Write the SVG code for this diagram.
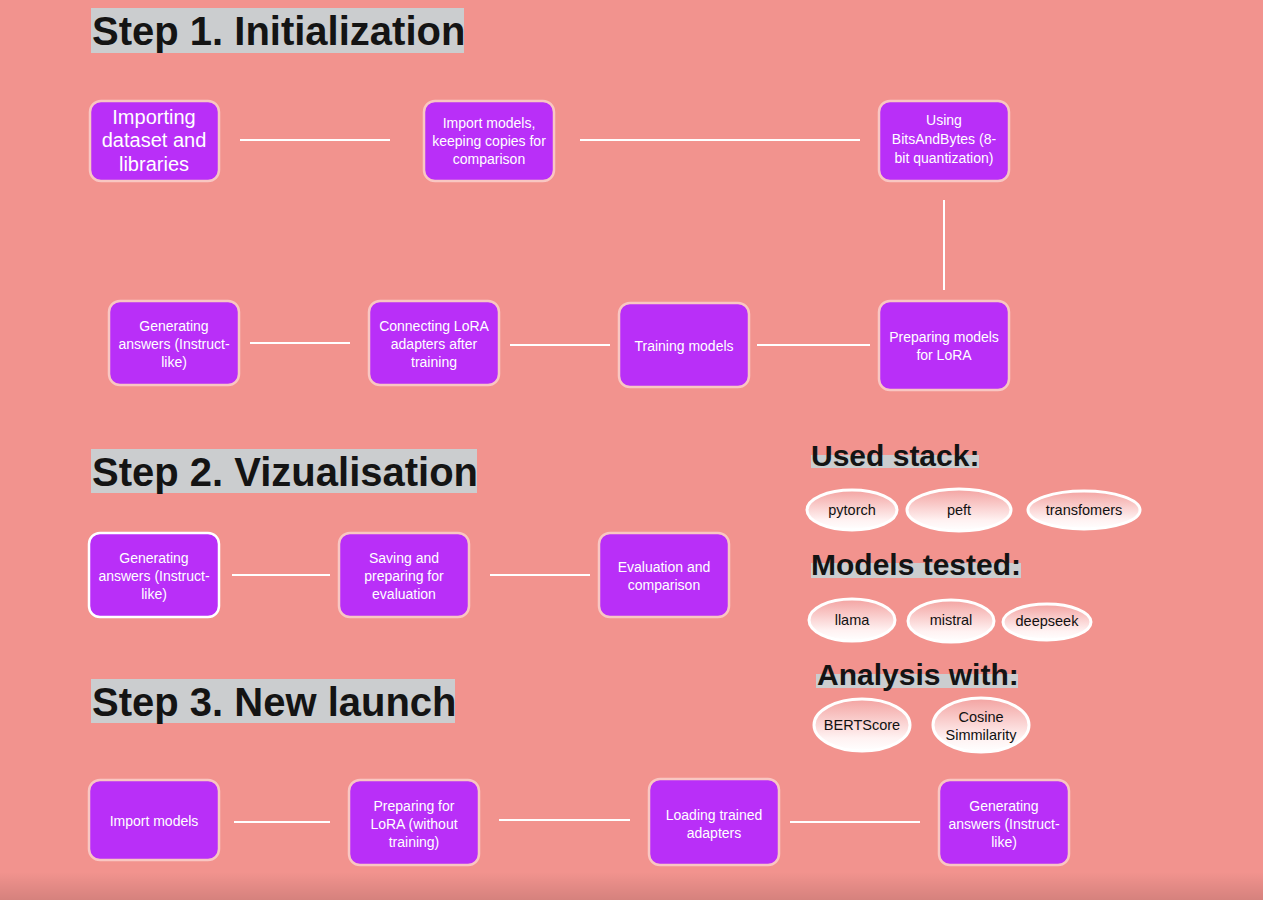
<svg xmlns="http://www.w3.org/2000/svg" width="1263" height="900" viewBox="0 0 1263 900">
<style>
.node rect{fill:#B92FF8;stroke:#F9C6C2;stroke-width:2.5}
.nt{font-family:"Liberation Sans",Arial,sans-serif;font-size:14px;fill:#FFFFFF;text-anchor:middle}
.big{font-size:20px}
.hbox{fill:#CBCDCF}
.h1{font-family:"Liberation Sans",Arial,sans-serif;font-weight:bold;font-size:40px;fill:#141414}
.h2{font-family:"Liberation Sans",Arial,sans-serif;font-weight:bold;font-size:30px;fill:#141414}
.pill ellipse{fill:url(#pg);stroke:#FFFFFF;stroke-width:3}
.pt{font-family:"Liberation Sans",Arial,sans-serif;font-size:14.5px;fill:#111111;text-anchor:middle}
#connectors line{stroke:#FFFFFF;stroke-width:2}
</style>
<defs>
<linearGradient id="pg" x1="0" y1="0" x2="0" y2="1">
<stop offset="0" stop-color="#F3A3A1"/>
<stop offset="0.75" stop-color="#FFF2F2"/>
<stop offset="1" stop-color="#FFFFFF"/>
</linearGradient>
<linearGradient id="sh" x1="0" y1="0" x2="0" y2="1">
<stop offset="0" stop-color="#000000" stop-opacity="0"/>
<stop offset="1" stop-color="#000000" stop-opacity="0.12"/>
</linearGradient>
</defs>
<rect width="1263" height="900" fill="#F2938E"/>
<rect x="0" y="872" width="1263" height="28" fill="url(#sh)"/>

<g id="headings">
<rect class="hbox" x="91" y="8" width="373" height="45"/>
<text class="h1" x="92" y="45">Step 1. Initialization</text>
<rect class="hbox" x="91" y="449" width="386" height="44"/>
<text class="h1" x="92" y="486">Step 2. Vizualisation</text>
<rect class="hbox" x="91" y="679" width="364" height="44"/>
<text class="h1" x="92" y="716">Step 3. New launch</text>
<rect class="hbox" x="811" y="455" width="168" height="13"/>
<text class="h2" x="811" y="466">Used stack:</text>
<rect class="hbox" x="811" y="563" width="210" height="15"/>
<text class="h2" x="811" y="575">Models tested:</text>
<rect class="hbox" x="816" y="674" width="202" height="14"/>
<text class="h2" x="817" y="685">Analysis with:</text>
</g>

<g id="connectors">
<line x1="240" y1="140" x2="390" y2="140"/>
<line x1="580" y1="140" x2="860" y2="140"/>
<line x1="944" y1="200" x2="944" y2="290"/>
<line x1="757" y1="345" x2="870" y2="345"/>
<line x1="510" y1="345" x2="610" y2="345"/>
<line x1="250" y1="343" x2="350" y2="343"/>
<line x1="232" y1="575" x2="330" y2="575"/>
<line x1="490" y1="575" x2="590" y2="575"/>
<line x1="234" y1="822" x2="330" y2="822"/>
<line x1="499" y1="820" x2="630" y2="820"/>
<line x1="790" y1="822" x2="920" y2="822"/>
</g>

<g id="n1" class="node"><rect x="90" y="101" width="129" height="80" rx="11"/>
<text class="nt big" x="154" y="124">Importing</text><text class="nt big" x="154" y="147">dataset and</text><text class="nt big" x="154" y="171">libraries</text></g>
<g id="n2" class="node"><rect x="424" y="101" width="130" height="80" rx="11"/>
<text class="nt" x="489" y="128">Import models,</text><text class="nt" x="489" y="146">keeping copies for</text><text class="nt" x="489" y="164">comparison</text></g>
<g id="n3" class="node"><rect x="879" y="101" width="130" height="80" rx="11"/>
<text class="nt" x="944" y="125">Using</text><text class="nt" x="944" y="144">BitsAndBytes (8-</text><text class="nt" x="944" y="163">bit quantization)</text></g>
<g id="n4" class="node"><rect x="879" y="301" width="130" height="89" rx="11"/>
<text class="nt" x="944" y="342">Preparing models</text><text class="nt" x="944" y="360">for LoRA</text></g>
<g id="n5" class="node"><rect x="619" y="303" width="130" height="84" rx="11"/>
<text class="nt" x="684" y="351">Training models</text></g>
<g id="n6" class="node"><rect x="369" y="301" width="130" height="84" rx="11"/>
<text class="nt" x="434" y="331">Connecting LoRA</text><text class="nt" x="434" y="349">adapters after</text><text class="nt" x="434" y="367">training</text></g>
<g id="n7" class="node"><rect x="109" y="301" width="130" height="84" rx="11"/>
<text class="nt" x="174" y="331">Generating</text><text class="nt" x="174" y="349">answers (Instruct-</text><text class="nt" x="174" y="367">like)</text></g>

<g id="n8" class="node"><rect x="89" y="533" width="130" height="84" rx="11" style="stroke:#FFFFFF"/>
<text class="nt" x="154" y="563">Generating</text><text class="nt" x="154" y="581">answers (Instruct-</text><text class="nt" x="154" y="599">like)</text></g>
<g id="n9" class="node"><rect x="339" y="533" width="130" height="84" rx="11"/>
<text class="nt" x="404" y="563">Saving and</text><text class="nt" x="404" y="581">preparing for</text><text class="nt" x="404" y="599">evaluation</text></g>
<g id="n10" class="node"><rect x="599" y="533" width="130" height="84" rx="11"/>
<text class="nt" x="664" y="572">Evaluation and</text><text class="nt" x="664" y="590">comparison</text></g>

<g id="n11" class="node"><rect x="89" y="780" width="130" height="80" rx="11"/>
<text class="nt" x="154" y="826">Import models</text></g>
<g id="n12" class="node"><rect x="349" y="780" width="130" height="85" rx="11"/>
<text class="nt" x="414" y="811">Preparing for</text><text class="nt" x="414" y="829">LoRA (without</text><text class="nt" x="414" y="847">training)</text></g>
<g id="n13" class="node"><rect x="649" y="779" width="130" height="86" rx="11"/>
<text class="nt" x="714" y="820">Loading trained</text><text class="nt" x="714" y="838">adapters</text></g>
<g id="n14" class="node"><rect x="939" y="780" width="130" height="85" rx="11"/>
<text class="nt" x="1004" y="811">Generating</text><text class="nt" x="1004" y="829">answers (Instruct-</text><text class="nt" x="1004" y="847">like)</text></g>

<g id="p1" class="pill"><ellipse cx="852" cy="510" rx="45" ry="20"/><text class="pt" x="852" y="515">pytorch</text></g>
<g id="p2" class="pill"><ellipse cx="959" cy="510" rx="52" ry="21"/><text class="pt" x="959" y="515">peft</text></g>
<g id="p3" class="pill"><ellipse cx="1084" cy="510" rx="56" ry="19"/><text class="pt" x="1084" y="515">transfomers</text></g>
<g id="p4" class="pill"><ellipse cx="852" cy="620" rx="43" ry="21"/><text class="pt" x="852" y="625">llama</text></g>
<g id="p5" class="pill"><ellipse cx="951" cy="621" rx="43" ry="21"/><text class="pt" x="951" y="625">mistral</text></g>
<g id="p6" class="pill"><ellipse cx="1047" cy="622" rx="44" ry="18"/><text class="pt" x="1047" y="626">deepseek</text></g>
<g id="p7" class="pill"><ellipse cx="862" cy="725" rx="48" ry="26"/><text class="pt" x="862" y="730">BERTScore</text></g>
<g id="p8" class="pill"><ellipse cx="981" cy="725" rx="48" ry="27"/><text class="pt" x="981" y="722">Cosine</text><text class="pt" x="981" y="740">Simmilarity</text></g>
</svg>
